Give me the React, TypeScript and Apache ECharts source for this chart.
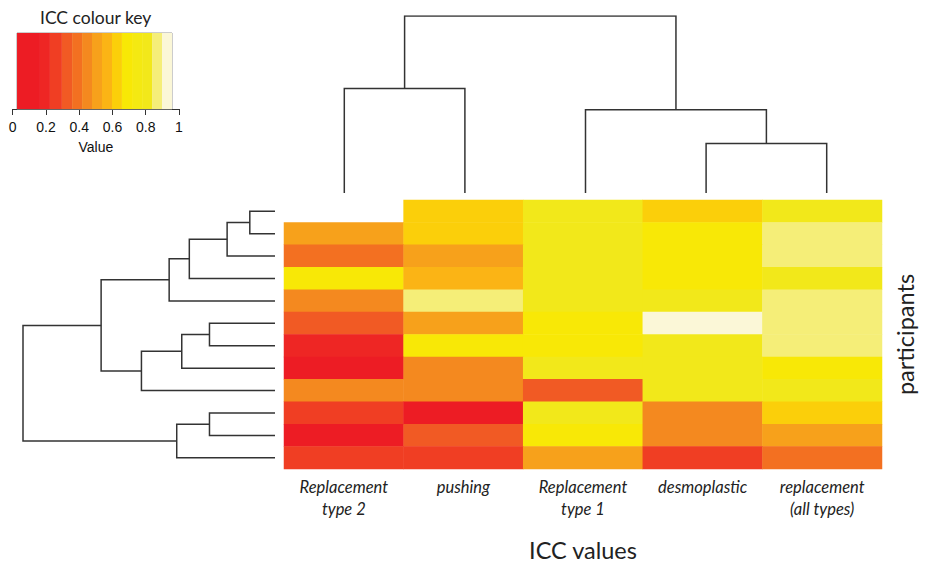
import React, { useEffect, useRef } from 'react';
import * as echarts from 'echarts';

// ICC types (columns, left to right as displayed)
const columnLabels = [
  'Replacement\ntype 2',
  'pushing',
  'Replacement\ntype 1',
  'desmoplastic',
  'replacement\n(all types)',
];

// participants (rows, top to bottom as displayed)
const participantLabels = ['P1', 'P2', 'P3', 'P4', 'P5', 'P6', 'P7', 'P8', 'P9', 'P10', 'P11', 'P12'];

// ICC values per participant (null = not available)
const iccRow1 = [null, 0.63, 0.8, 0.63, 0.8];
const iccRow2 = [0.51, 0.63, 0.8, 0.69, 0.87];
const iccRow3 = [0.39, 0.51, 0.8, 0.69, 0.87];
const iccRow4 = [0.69, 0.57, 0.8, 0.69, 0.8];
const iccRow5 = [0.45, 0.87, 0.8, 0.8, 0.87];
const iccRow6 = [0.33, 0.51, 0.69, 0.93, 0.87];
const iccRow7 = [0.19, 0.69, 0.69, 0.8, 0.87];
const iccRow8 = [0.1, 0.45, 0.8, 0.8, 0.69];
const iccRow9 = [0.45, 0.45, 0.33, 0.8, 0.8];
const iccRow10 = [0.26, 0.1, 0.8, 0.45, 0.63];
const iccRow11 = [0.1, 0.33, 0.69, 0.45, 0.51];
const iccRow12 = [0.26, 0.26, 0.51, 0.26, 0.39];
const iccMatrix = [iccRow1, iccRow2, iccRow3, iccRow4, iccRow5, iccRow6, iccRow7, iccRow8, iccRow9, iccRow10, iccRow11, iccRow12];

// colour key
const keyBreaks = [0.026, 0.164, 0.224, 0.296, 0.357, 0.417, 0.477, 0.537, 0.597, 0.657, 0.723, 0.783, 0.838, 0.898, 0.958];
const keyColors = [
  '#ED1C24', '#EE2624', '#F03E23', '#F15A24', '#F37021', '#F4891F', '#F7A11B',
  '#FBB415', '#FBCF0A', '#F8E806', '#F4E912', '#F2E81A', '#F5EE78', '#FBF7D7',
];
const keyTicks = [0, 0.2, 0.4, 0.6, 0.8, 1];

// hierarchical clustering merges: [childA, childB, height]; child >= n refers to merge (child - n)
const rowMerges: [number, number, number][] = [
  [0, 1, 0.1],
  [12, 2, 0.19],
  [13, 3, 0.34],
  [14, 4, 0.42],
  [5, 6, 0.26],
  [16, 7, 0.37],
  [17, 8, 0.53],
  [15, 18, 0.69],
  [9, 10, 0.26],
  [20, 11, 0.39],
  [19, 21, 1.0],
];
const colMerges: [number, number, number][] = [
  [0, 1, 0.59],
  [3, 4, 0.28],
  [2, 6, 0.47],
  [5, 7, 1.0],
];

function dendroSegments(n: number, merges: [number, number, number][]) {
  const pos: number[] = [];
  const h: number[] = [];
  for (let i = 0; i < n; i++) {
    pos[i] = i;
    h[i] = 0;
  }
  const segs: number[][][] = [];
  merges.forEach(([a, b, height], k) => {
    segs.push([
      [pos[a], h[a]],
      [pos[a], height],
      [pos[b], height],
      [pos[b], h[b]],
    ]);
    pos[n + k] = (pos[a] + pos[b]) / 2;
    h[n + k] = height;
  });
  return segs;
}

const LABEL_FONT = 'Lato, "Open Sans", sans-serif';

export default function App() {
  const ref = useRef<HTMLDivElement>(null);
  useEffect(() => {
    document.body.style.margin = '0';
    if (!ref.current) return;
    const chart = echarts.init(ref.current, undefined, { renderer: 'svg' });

    const heatData: any[] = [];
    iccMatrix.forEach((row, r) => {
      row.forEach((v, c) => {
        heatData.push([c, r, v === null ? '-' : v]);
      });
    });

    const rowSegs = dendroSegments(participantLabels.length, rowMerges).map((s) => ({
      coords: s.map(([p, hh]) => [hh, p]),
    }));
    const colSegs = dendroSegments(columnLabels.length, colMerges).map((s) => ({
      coords: s.map(([p, hh]) => [p, hh]),
    }));

    const pieces = keyColors.map((color, i) => ({ gte: keyBreaks[i], lt: keyBreaks[i + 1], color }));

    const keySeries: any[] = [
      {
        type: 'bar',
        xAxisIndex: 3,
        yAxisIndex: 3,
        stack: 'key',
        barWidth: '100%',
        silent: true,
        data: [keyBreaks[0]],
        itemStyle: { color: 'transparent' },
      },
    ];
    keyColors.forEach((color, i) => {
      keySeries.push({
        type: 'bar',
        xAxisIndex: 3,
        yAxisIndex: 3,
        stack: 'key',
        barWidth: '100%',
        silent: true,
        data: [keyBreaks[i + 1] - keyBreaks[i]],
        itemStyle: { color },
        markArea:
          i === keyColors.length - 1
            ? {
                silent: true,
                itemStyle: { color: 'rgba(0,0,0,0)', borderColor: '#9a9a9a', borderWidth: 1 },
                data: [[{ xAxis: keyBreaks[0] }, { xAxis: keyBreaks[keyBreaks.length - 1] }]],
              }
            : undefined,
      });
    });

    chart.setOption({
      animation: false,
      backgroundColor: '#ffffff',
      title: {
        text: 'ICC colour key',
        left: 35,
        top: 3,
        textStyle: { fontSize: 17.5, fontWeight: 'normal', fontFamily: LABEL_FONT, color: '#222' },
      },
      grid: [
        { left: 284, top: 200, width: 603, height: 269 },
        { left: 23, top: 200, width: 252, height: 269 },
        { left: 284, top: 16, width: 603, height: 177 },
        { left: 12.7, top: 33, width: 166.3, height: 76 },
      ],
      xAxis: [
        {
          type: 'category',
          gridIndex: 0,
          data: columnLabels,
          axisLine: { show: false },
          axisTick: { show: false },
          axisLabel: {
            fontStyle: 'italic',
            fontSize: 16.5,
            lineHeight: 22,
            margin: 7,
            color: '#222',
            fontFamily: LABEL_FONT,
            interval: 0,
          },
          name: 'ICC values',
          nameLocation: 'middle',
          nameGap: 69,
          nameTextStyle: { fontSize: 23.5, color: '#222', fontFamily: LABEL_FONT },
        },
        { type: 'value', gridIndex: 1, min: 0, max: 1, inverse: true, show: false },
        { type: 'value', gridIndex: 2, min: -0.5, max: columnLabels.length - 0.5, show: false },
        {
          type: 'value',
          gridIndex: 3,
          min: 0,
          max: 1,
          interval: 0.2,
          position: 'bottom',
          splitLine: { show: false },
          axisLine: { show: true, onZero: false, lineStyle: { color: '#333', width: 1 } },
          axisTick: { show: true, length: 6, lineStyle: { color: '#333' } },
          axisLabel: {
            fontSize: 14,
            color: '#111',
            margin: 11,
            fontFamily: '"Liberation Sans", Arial, sans-serif',
            customValues: keyTicks,
          },
          name: 'Value',
          nameLocation: 'middle',
          nameGap: 31,
          nameTextStyle: { fontSize: 14, color: '#111', fontFamily: '"Liberation Sans", Arial, sans-serif' },
        },
      ],
      yAxis: [
        {
          type: 'category',
          gridIndex: 0,
          data: participantLabels,
          inverse: true,
          position: 'right',
          axisLine: { show: false },
          axisTick: { show: false },
          axisLabel: { show: false },
          name: 'participants',
          nameLocation: 'middle',
          nameRotate: 90,
          nameGap: 11,
          nameTextStyle: { fontSize: 23.5, color: '#222', fontFamily: LABEL_FONT },
        },
        {
          type: 'value',
          gridIndex: 1,
          min: -0.5,
          max: participantLabels.length - 0.5,
          inverse: true,
          show: false,
        },
        { type: 'value', gridIndex: 2, min: 0, max: 1, show: false },
        { type: 'category', gridIndex: 3, data: ['key'], show: false },
      ],
      visualMap: {
        type: 'piecewise',
        show: false,
        seriesIndex: 0,
        pieces,
      },
      series: [
        {
          type: 'heatmap',
          xAxisIndex: 0,
          yAxisIndex: 0,
          data: heatData,
          itemStyle: { borderWidth: 0 },
          silent: true,
        },
        {
          type: 'lines',
          coordinateSystem: 'cartesian2d',
          xAxisIndex: 1,
          yAxisIndex: 1,
          polyline: true,
          silent: true,
          lineStyle: { color: '#333', width: 1.5, opacity: 1 },
          data: rowSegs,
        },
        {
          type: 'lines',
          coordinateSystem: 'cartesian2d',
          xAxisIndex: 2,
          yAxisIndex: 2,
          polyline: true,
          silent: true,
          lineStyle: { color: '#333', width: 1.5, opacity: 1 },
          data: colSegs,
        },
        ...keySeries,
      ],
    });

    return () => chart.dispose();
  }, []);

  return <div ref={ref} style={{ position: 'absolute', left: 0, top: 0, width: 925, height: 564 }} />;
}
